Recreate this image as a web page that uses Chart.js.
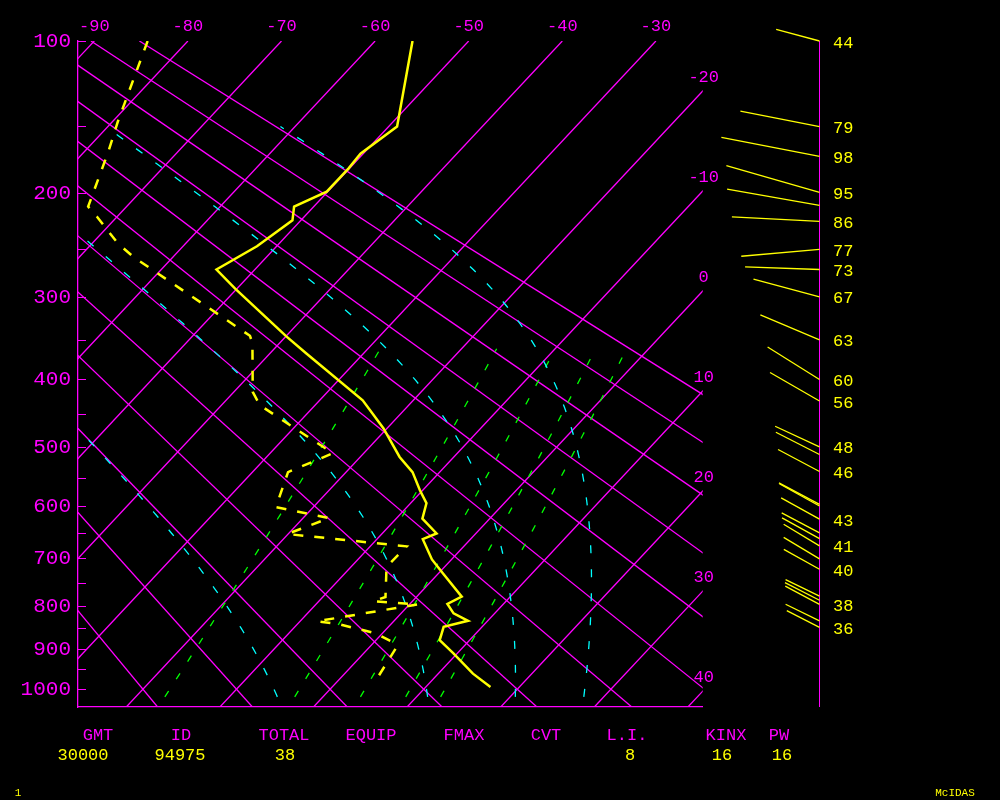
<!DOCTYPE html>
<html>
<head>
<meta charset="utf-8">
<script src="https://cdn.jsdelivr.net/npm/chart.js@4.4.0/dist/chart.umd.min.js"></script>
<style>
  html, body { margin: 0; padding: 0; background: #000; }
  #wrap { width: 1000px; height: 800px; }
</style>
</head>
<body>
<div id="wrap"><canvas id="skewt" width="1000" height="800"></canvas></div>
<script>
// upper air sounding, station 94975 - values
const tempP = [100, 150, 169, 180, 198.5, 211, 223, 247, 270, 290, 345, 366, 429, 470, 515, 540, 571, 594, 622, 650, 661, 701, 730, 779, 795, 816, 833, 847, 878, 910, 960, 994];
const tempT = [-56.0, -49.1, -50.3, -50.1, -50.1, -52.1, -50.9, -52.1, -54.1, -50.2, -39.9, -36.1, -25.4, -20.4, -15.8, -12.9, -10.3, -8.3, -7.2, -4.2, -5.1, -2.1, 0.5, 4.8, 4.0, 5.6, 7.9, 5.9, 6.8, 9.6, 13.7, 16.9];

const dewP = [100, 147, 168, 211, 220, 244, 257.5, 344, 353, 417, 436, 509, 540, 601, 621, 651, 675, 708.5, 727, 780, 789, 796, 834, 841, 862, 883, 895, 977];
const dewT = [-84.3, -79.4, -77.4, -74.1, -72.1, -67.3, -64.2, -43.9, -42.9, -38.0, -35.9, -23.3, -26.2, -24.0, -17.2, -20.1, -6.1, -6.2, -5.7, -3.3, -4.2, 0.9, -8.2, -5.5, -0.7, 2.0, 2.9, 4.0];

// winds: pressure (hPa), direction (deg), speed (kt)
const windP = [100, 150, 171, 199, 210, 224, 250, 270, 299, 349, 400, 430, 499, 511, 539, 596, 599, 623, 649, 660, 674, 700, 721, 778, 787, 796, 833, 848];
const windDir = [285, 281, 281, 286, 280, 273, 265, 272, 285, 293, 302, 300, 295, 297, 298, 298, 299, 299, 298, 299, 301, 301, 299, 296, 297, 298, 296, 297];
const windSpd = [44, 79, 98, 95, 92, 86, 77, 73, 67, 63, 60, 56, 48, 48, 46, 45, 45, 43, 42, 42, 41, 41, 40, 37, 38, 38, 37, 36];
const windLabeled = [1, 1, 1, 1, 0, 1, 1, 1, 1, 1, 1, 1, 1, 0, 1, 0, 0, 1, 0, 0, 1, 0, 1, 0, 0, 1, 0, 1];

// background lines
const isotherms = [-90, -80, -70, -60, -50, -40, -30, -20, -10, 0, 10, 20, 30, 40];
const dryAdiabats = [-20, -10, 0, 10, 20, 30, 40, 50, 60, 70, 80, 90];   // theta, deg C
const mixRatios = [1, 3, 5, 7, 9];                                        // g/kg
const moistStart = [-6, 10.3, 19.8, 27.2];                                // T at 1000 hPa
const topTicks = [-90, -80, -70, -60, -50, -40, -30];
const rightTicks = [-20, -10, 0, 10, 20, 30, 40];
const pTicks = [100, 150, 200, 250, 300, 350, 400, 450, 500, 550, 600, 650, 700, 750, 800, 850, 900, 950, 1000];

const statNames = ['GMT', 'ID', 'TOTAL', 'EQUIP', 'FMAX', 'CVT', 'L.I.', 'KINX', 'PW'];
const statValues = ['30000', '94975', '38', '', '', '', '8', '16', '16'];
const statNameX = [98, 181, 284, 371, 464, 546, 627, 726, 779];
const statValueX = [83, 180, 285, 0, 0, 0, 630, 722, 782];

const MAGENTA = '#ff00ff', YELLOW = '#ffff00', CYAN = '#00ffff', GREEN = '#00ff00';
const FONT = '"Liberation Mono", "DejaVu Sans Mono", monospace';

const KAPPA = 0.286;
const yOf = p => Math.pow(p, KAPPA);
const Y_TOP = yOf(100);
const Y_BOT = yOf(1047);
const SKEW = 18.63;
const X_LEFT = -91.74, X_RIGHT = -25;
const WIND_X = 819.5;

const pt = (T, p) => ({ x: T - SKEW * (yOf(p) - Y_TOP), y: yOf(p) });

function esat(tc) { return 6.112 * Math.exp(17.67 * tc / (tc + 243.5)); }
function thetaE(tc, p) {
  const tk = tc + 273.15, es = Math.min(esat(tc), p * 0.5), rs = 0.622 * es / (p - es);
  return tk * Math.pow(1000 / p, KAPPA) * Math.exp(2.5e6 * rs / (1004 * tk));
}
function moistLine(t0) {
  const te = thetaE(t0, 1000), pts = [];
  for (let p = 1020; p >= 150; p -= 10) {
    let lo = -130, hi = 50;
    for (let k = 0; k < 40; k++) {
      const mid = (lo + hi) / 2;
      if (thetaE(mid, p) > te) hi = mid; else lo = mid;
    }
    pts.push(pt((lo + hi) / 2, p));
  }
  return pts;
}
function mixLine(w) {
  const pts = [];
  for (let p = 1020; p >= 355; p -= 15) {
    const e = w * p / (622 + w), l = Math.log(e / 6.112);
    pts.push(pt(243.5 * l / (17.67 - l), p));
  }
  return pts;
}

const line = (data, color, width, dash, order) => ({
  data, showLine: true, borderColor: color, borderWidth: width, borderDash: dash || [],
  pointRadius: 0, fill: false, tension: 0, order
});

const datasets = [];
isotherms.forEach(T => datasets.push(line([pt(T, 100), pt(T, 1047)], MAGENTA, 1.3, null, 6)));
dryAdiabats.forEach(th => {
  const tAt = p => (th + 273.15) * Math.pow(p / 1000, KAPPA) - 273.15;
  datasets.push(line([pt(tAt(100), 100), pt(tAt(1047), 1047)], MAGENTA, 1.3, null, 6));
});
mixRatios.forEach(w => datasets.push(line(mixLine(w), GREEN, 1.3, [7, 14], 5)));
moistStart.forEach(t => datasets.push(line(moistLine(t), CYAN, 1.3, [8, 16], 4)));
datasets.push(line(dewP.map((p, i) => pt(dewT[i], p)), YELLOW, 2.5, [10, 11], 2));
datasets.push(line(tempP.map((p, i) => pt(tempT[i], p)), YELLOW, 2.5, null, 1));

const extras = {
  id: 'extras',
  afterDatasetsDraw(chart) {
    const ctx = chart.ctx, ys = chart.scales.y, area = chart.chartArea;
    ctx.save();
    // isotherm values along the right edge
    ctx.fillStyle = MAGENTA;
    ctx.font = '17px ' + FONT;
    ctx.textAlign = 'center';
    ctx.textBaseline = 'middle';
    rightTicks.forEach(T => {
      const py = ys.getPixelForValue(Y_TOP + (T - X_RIGHT) / SKEW);
      ctx.fillText(String(T), area.right + 1, py - 13.5);
    });
    // wind profile
    ctx.strokeStyle = MAGENTA;
    ctx.lineWidth = 1;
    ctx.beginPath();
    ctx.moveTo(WIND_X, area.top);
    ctx.lineTo(WIND_X, area.bottom);
    ctx.stroke();
    ctx.strokeStyle = YELLOW;
    ctx.lineWidth = 1.3;
    ctx.fillStyle = YELLOW;
    ctx.textAlign = 'left';
    windP.forEach((p, i) => {
      const by = ys.getPixelForValue(yOf(p));
      const a = windDir[i] * Math.PI / 180, len = windSpd[i] * 1.02;
      ctx.beginPath();
      ctx.moveTo(WIND_X, by);
      ctx.lineTo(WIND_X + Math.sin(a) * len, by - Math.cos(a) * len);
      ctx.stroke();
      if (windLabeled[i]) ctx.fillText(String(windSpd[i]), 833, by + 2);
    });
    ctx.restore();
  },
  afterDraw(chart) {
    const ctx = chart.ctx;
    ctx.save();
    ctx.font = '17px ' + FONT;
    ctx.textAlign = 'center';
    ctx.textBaseline = 'middle';
    ctx.fillStyle = MAGENTA;
    statNames.forEach((s, i) => ctx.fillText(s, statNameX[i], 735));
    ctx.fillStyle = YELLOW;
    statValues.forEach((s, i) => { if (s) ctx.fillText(s, statValueX[i], 755); });
    ctx.font = '11px ' + FONT;
    ctx.fillText('1', 18, 793);
    ctx.fillText('McIDAS', 955, 793);
    ctx.restore();
  }
};

new Chart(document.getElementById('skewt'), {
  type: 'scatter',
  data: { datasets },
  options: {
    responsive: false,
    devicePixelRatio: 1,
    animation: false,
    events: [],
    layout: { padding: { left: 0, top: 0, right: 297.3, bottom: 0 } },
    plugins: { legend: { display: false }, tooltip: { enabled: false } },
    scales: {
      x: {
        type: 'linear', position: 'top', min: X_LEFT, max: X_RIGHT,
        afterBuildTicks: s => { s.ticks = topTicks.map(v => ({ value: v })); },
        afterFit: s => { s.height = 41; },
        grid: { display: false, drawTicks: false },
        border: { display: false },
        ticks: { color: MAGENTA, font: { family: FONT, size: 17 }, padding: 4, maxRotation: 0, autoSkip: false,
                 callback: v => String(v) }
      },
      xb: {
        type: 'linear', position: 'bottom', min: X_LEFT, max: X_RIGHT,
        afterFit: s => { s.height = 93; },
        grid: { display: false, drawTicks: false },
        border: { display: true, color: MAGENTA, width: 1.3 },
        ticks: { display: false }
      },
      y: {
        type: 'linear', position: 'left', reverse: true, min: Y_TOP, max: Y_BOT,
        afterBuildTicks: s => { s.ticks = pTicks.map(p => ({ value: yOf(p) })); },
        afterFit: s => { s.width = 78; },
        grid: { display: true, drawOnChartArea: false, drawTicks: true, tickLength: -8, color: MAGENTA, tickColor: MAGENTA },
        border: { display: true, color: MAGENTA, width: 1.3 },
        ticks: { color: MAGENTA, font: { family: FONT, size: 21 }, padding: 15, autoSkip: false,
                 callback: v => { const p = Math.round(Math.pow(v, 1 / KAPPA)); return p % 100 === 0 ? String(p) : ''; } }
      }
    }
  },
  plugins: [extras]
});
</script>
</body>
</html>
